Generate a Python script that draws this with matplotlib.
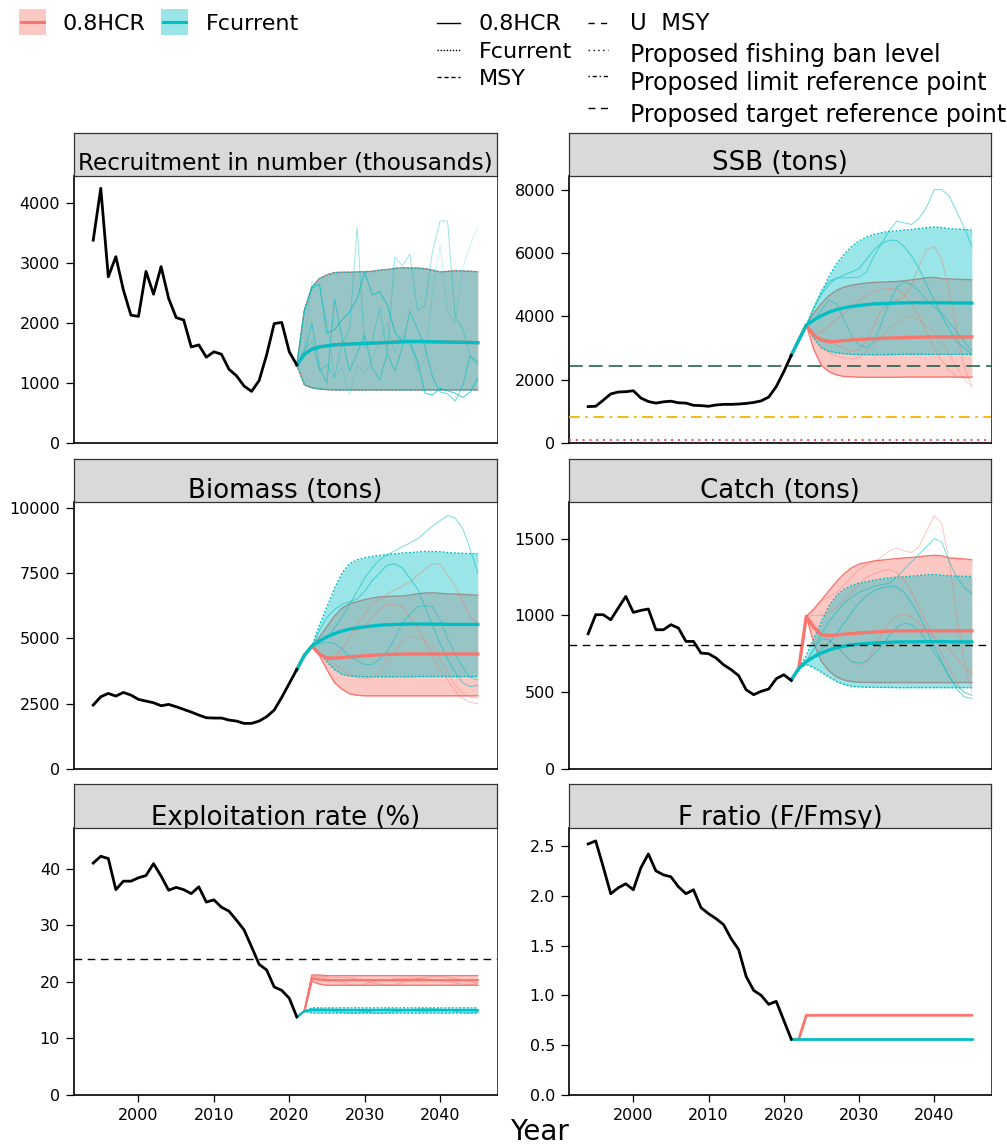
import matplotlib
matplotlib.use("Agg")
import matplotlib.pyplot as plt
from matplotlib.lines import Line2D
from matplotlib.patches import Rectangle

plt.rcParams['font.family'] = ['DejaVu Sans']

# ---------------- data ----------------
scenarios = ['0.8HCR', 'Fcurrent']
lt_col1 = ['0.8HCR', 'Fcurrent', 'MSY']
lt_col2 = ['U  MSY', 'Proposed fishing ban level', 'Proposed limit reference point',
           'Proposed target reference point']
titles = ['Recruitment in number (thousands)', 'SSB (tons)', 'Biomass (tons)',
          'Catch (tons)', 'Exploitation rate (%)', 'F ratio (F/Fmsy)']
x_label = 'Year'
x_ticks = [2000, 2010, 2020, 2030, 2040]

hist_years = list(range(1994, 2022))
proj_years = list(range(2021, 2046))

rec_hist = [3380, 4245, 2770, 3105, 2550, 2130, 2110, 2860, 2480, 2940, 2410, 2090, 2050, 1600,
            1635, 1430, 1520, 1480, 1230, 1120, 950, 860, 1040, 1470, 1990, 2010, 1520, 1300]
ssb_hist = [1150, 1160, 1350, 1550, 1610, 1620, 1650, 1420, 1310, 1260, 1300, 1320, 1270, 1260,
            1190, 1180, 1160, 1200, 1220, 1220, 1230, 1250, 1280, 1330, 1450, 1780, 2250, 2770]
bio_hist = [2445, 2764, 2891, 2789, 2929, 2828, 2662, 2598, 2535, 2420, 2471, 2382, 2280, 2178,
            2063, 1961, 1949, 1949, 1872, 1834, 1745, 1745, 1834, 2000, 2254, 2739, 3273, 3808]
catch_hist = [881, 1005, 1005, 972, 1049, 1124, 1020, 1033, 1042, 907, 907, 940, 918, 831,
              831, 755, 751, 723, 679, 647, 608, 516, 484, 506, 521, 588, 614, 577]
er_hist = [41.0, 42.2, 41.8, 36.3, 37.8, 37.8, 38.4, 38.8, 40.9, 38.7, 36.2, 36.7, 36.3, 35.6,
           36.8, 34.1, 34.5, 33.2, 32.5, 30.9, 29.2, 26.2, 23.1, 22.1, 19.1, 18.5, 17.1, 13.8]
fr_hist = [2.52, 2.55, 2.29, 2.02, 2.08, 2.12, 2.06, 2.28, 2.42, 2.25, 2.21, 2.19, 2.09, 2.02,
           2.06, 1.88, 1.82, 1.77, 1.71, 1.57, 1.46, 1.19, 1.05, 1.00, 0.91, 0.94, 0.75, 0.56]

# Recruitment projections (same for both scenarios)
rec_med = [1300, 1480, 1565, 1600, 1620, 1635, 1645, 1650, 1655, 1660, 1665, 1670, 1675,
           1680, 1688, 1690, 1692, 1690, 1688, 1685, 1682, 1680, 1678, 1675, 1672]
rec_lo = [1300, 970, 920, 900, 890, 885, 885, 885, 885, 885, 885, 885, 885,
          885, 885, 885, 885, 885, 885, 885, 885, 885, 885, 885, 885]
rec_hi = [1300, 2210, 2600, 2740, 2800, 2840, 2845, 2845, 2850, 2855, 2860, 2880, 2890,
          2910, 2920, 2915, 2915, 2905, 2880, 2850, 2860, 2870, 2865, 2860, 2855]
rec_iter_teal = [
    [1300, 2200, 2580, 2650, 1830, 1890, 2050, 2190, 2400, 2850, 2470, 2520, 2300,
     1850, 1690, 1690, 1360, 830, 800, 910, 870, 830, 760, 850, 1080],
    [1300, 1550, 1700, 1200, 1300, 1100, 1650, 1900, 3600, 1600, 1700, 2250, 1500,
     3100, 2950, 3150, 2200, 2300, 3200, 3700, 3700, 2100, 1900, 1450, 1300],
    [1300, 1500, 2000, 1250, 1000, 2400, 1750, 1200, 1500, 1800, 1250, 1050, 1500,
     1200, 1600, 2200, 1900, 1600, 1100, 850, 820, 700, 950, 1450, 1350],
    [1300, 1600, 2700, 2600, 2000, 1100, 1250, 800, 1300, 1150, 1400, 1700, 2000,
     1500, 1800, 1700, 1200, 1400, 2500, 3300, 2200, 2000, 2900, 3300, 3600],
]

# SSB
ssb_teal_med = [2770, 3250, 3720, 3880, 4020, 4130, 4210, 4270, 4310, 4340, 4370, 4390, 4400,
                4410, 4420, 4425, 4430, 4430, 4430, 4430, 4428, 4425, 4422, 4420, 4420]
ssb_teal_lo = [2770, 3250, 3720, 3300, 3000, 2900, 2850, 2820, 2800, 2790, 2790, 2790, 2790,
               2790, 2795, 2800, 2800, 2800, 2800, 2800, 2800, 2800, 2800, 2800, 2800]
ssb_teal_hi = [2770, 3250, 3720, 4250, 4750, 5250, 5650, 5950, 6200, 6380, 6500, 6580, 6640,
               6680, 6700, 6720, 6740, 6770, 6800, 6820, 6800, 6770, 6750, 6740, 6720]
ssb_pink_med = [2770, 3250, 3720, 3400, 3250, 3200, 3210, 3230, 3250, 3270, 3285, 3295, 3305,
                3315, 3320, 3330, 3335, 3340, 3345, 3350, 3350, 3350, 3350, 3350, 3350]
ssb_pink_lo = [2770, 3250, 3720, 2950, 2450, 2250, 2150, 2100, 2090, 2080, 2075, 2075, 2075,
               2075, 2080, 2080, 2085, 2085, 2085, 2085, 2085, 2085, 2080, 2080, 2080]
ssb_pink_hi = [2770, 3250, 3720, 4100, 4400, 4650, 4820, 4920, 4980, 5020, 5050, 5070, 5080,
               5090, 5100, 5120, 5150, 5180, 5220, 5230, 5190, 5180, 5170, 5160, 5150]
ssb_iter_teal = [
    [2770, 3250, 3720, 4300, 4800, 5100, 5200, 5220, 5220, 5230, 5400, 5900, 6300,
     6700, 7000, 6950, 6900, 7100, 7450, 8000, 8000, 7800, 7300, 6800, 6200],
    [2770, 3250, 3720, 4250, 4700, 5000, 5200, 5300, 5400, 5500, 5800, 6100, 6300,
     6400, 6400, 6200, 5900, 5500, 5000, 4500, 4000, 3600, 3200, 3000, 2800],
    [2770, 3250, 3720, 3900, 4200, 4500, 4400, 3900, 3400, 3100, 3000, 3200, 3800,
     4400, 4900, 5100, 5000, 4800, 4500, 4300, 4100, 3800, 3500, 3200, 2900],
]
ssb_iter_pink = [
    [2770, 3250, 3720, 3400, 3300, 3250, 3100, 3000, 2900, 2950, 3200, 3700, 4200,
     4400, 4500, 4600, 5000, 5600, 6100, 6200, 5800, 4800, 3500, 2400, 1800],
    [2770, 3250, 3720, 3450, 3500, 3700, 3900, 4100, 4300, 4500, 4650, 4780, 4850,
     4880, 4850, 4700, 4400, 4000, 3500, 3000, 2600, 2300, 2100, 2050, 2050],
    [2770, 3250, 3720, 3300, 3000, 2850, 2750, 2700, 2650, 2700, 2900, 3100, 3350,
     3600, 3800, 3950, 4000, 3900, 3700, 3500, 3200, 2800, 2400, 2000, 1780],
]
ssb_target = 2430
ssb_limit = 830
ssb_ban = 100

# Biomass
bio_teal_med = [3800, 4350, 4700, 4900, 5060, 5180, 5280, 5350, 5400, 5440, 5470, 5500, 5520,
                5530, 5540, 5545, 5545, 5545, 5540, 5540, 5535, 5530, 5530, 5530, 5530]
bio_teal_lo = [3800, 4350, 4700, 4450, 4100, 3800, 3620, 3560, 3540, 3530, 3530, 3530, 3530,
               3530, 3530, 3530, 3540, 3540, 3540, 3540, 3540, 3540, 3540, 3540, 3540]
bio_teal_hi = [3800, 4350, 4700, 5500, 6200, 6900, 7500, 7850, 8000, 8080, 8130, 8170, 8200,
               8230, 8260, 8280, 8300, 8320, 8320, 8310, 8280, 8260, 8250, 8240, 8240]
bio_pink_med = [3800, 4350, 4700, 4400, 4240, 4240, 4260, 4290, 4310, 4330, 4350, 4370, 4380,
                4390, 4395, 4400, 4400, 4400, 4400, 4400, 4400, 4400, 4400, 4400, 4400]
bio_pink_lo = [3800, 4350, 4700, 4350, 3800, 3300, 3050, 2880, 2820, 2800, 2800, 2800, 2800,
               2800, 2800, 2800, 2800, 2800, 2800, 2800, 2800, 2800, 2800, 2800, 2800]
bio_pink_hi = [3800, 4350, 4700, 5050, 5450, 5850, 6150, 6320, 6400, 6480, 6540, 6580, 6600,
               6610, 6620, 6650, 6700, 6730, 6740, 6720, 6700, 6690, 6680, 6660, 6650]
bio_iter_teal = [
    [3800, 4350, 4700, 4850, 5000, 5400, 5800, 6300, 6800, 7300, 7700, 8000, 8200,
     8350, 8500, 8650, 8800, 9050, 9300, 9500, 9700, 9600, 9200, 8400, 7500],
    [3800, 4350, 4700, 5300, 5800, 6100, 6300, 6400, 6500, 6800, 7200, 7500, 7800,
     7850, 7700, 7300, 6900, 6200, 5500, 4800, 4200, 3700, 3300, 3150, 3200],
    [3800, 4350, 4700, 4800, 4850, 4800, 4600, 4300, 4150, 4000, 4000, 4200, 4500,
     5000, 5600, 5900, 6200, 6250, 6200, 5700, 5000, 4400, 3900, 3500, 3400],
]
bio_iter_pink = [
    [3800, 4350, 4700, 4400, 4300, 4300, 4600, 5000, 5500, 5900, 6300, 6500, 6700,
     6850, 7000, 7150, 7400, 7650, 7850, 7850, 7400, 7000, 6400, 5800, 5600],
    [3800, 4350, 4700, 4900, 5000, 5150, 5300, 5300, 5300, 5500, 5800, 6100, 6300,
     6300, 6200, 5800, 5400, 4900, 4300, 3800, 3400, 3000, 2700, 2550, 2500],
    [3800, 4350, 4700, 4400, 4200, 4000, 3800, 3650, 3500, 3450, 3500, 3700, 4100,
     4500, 4900, 5050, 5050, 4900, 4700, 4200, 3700, 3200, 2900, 2750, 2700],
]

# Catch
c_teal_med = [580, 655, 700, 730, 755, 775, 790, 800, 808, 813, 817, 820, 823,
              825, 827, 828, 828, 829, 829, 829, 829, 829, 828, 828, 828]
c_teal_lo = [580, 655, 680, 660, 630, 600, 570, 550, 540, 535, 533, 532, 531,
             531, 530, 530, 530, 530, 530, 530, 530, 530, 530, 530, 530]
c_teal_hi = [580, 655, 740, 850, 960, 1060, 1130, 1170, 1195, 1210, 1220, 1230, 1238,
             1244, 1248, 1252, 1256, 1260, 1265, 1267, 1262, 1258, 1256, 1255, 1254]
c_pink_med = [580, 655, 994, 920, 875, 870, 872, 878, 882, 886, 889, 892, 895,
              898, 900, 900, 900, 900, 900, 900, 900, 900, 900, 900, 900]
c_pink_lo = [580, 655, 994, 820, 700, 640, 600, 580, 570, 565, 564, 563, 563,
             563, 563, 563, 563, 563, 563, 563, 563, 563, 563, 563, 563]
c_pink_hi = [580, 655, 994, 1040, 1100, 1160, 1220, 1270, 1310, 1335, 1345, 1355, 1360,
             1365, 1370, 1375, 1378, 1382, 1388, 1392, 1388, 1375, 1372, 1368, 1363]
c_iter_teal = [
    [580, 655, 700, 780, 880, 960, 1020, 1080, 1120, 1150, 1170, 1190, 1200,
     1210, 1250, 1300, 1350, 1400, 1450, 1500, 1480, 1350, 1250, 1180, 1140],
    [580, 655, 700, 740, 780, 820, 880, 950, 1020, 1080, 1130, 1160, 1180,
     1190, 1185, 1150, 1080, 1000, 900, 800, 700, 600, 520, 470, 460],
    [580, 655, 700, 780, 850, 840, 800, 750, 700, 690, 700, 750, 800,
     870, 920, 950, 940, 900, 830, 760, 690, 600, 540, 500, 480],
]
c_iter_pink = [
    [580, 655, 994, 1050, 1100, 1120, 1150, 1200, 1250, 1300, 1330, 1350, 1380,
     1420, 1440, 1420, 1410, 1450, 1550, 1650, 1600, 1350, 1000, 700, 500],
    [580, 655, 994, 1000, 1000, 1020, 1050, 1100, 1150, 1200, 1250, 1270, 1290,
     1300, 1280, 1230, 1150, 1050, 950, 850, 750, 650, 560, 500, 480],
    [580, 655, 994, 950, 880, 840, 800, 750, 700, 680, 700, 780, 880,
     950, 1000, 1010, 990, 950, 900, 860, 820, 780, 720, 660, 620],
]
catch_msy = 810

# Exploitation rate
er_teal_med = [13.8, 14.8, 15.0, 15.0, 15.0, 15.0, 15.0, 15.0, 15.0, 15.0, 15.0, 15.0, 15.0,
               15.0, 15.0, 15.0, 15.0, 15.0, 15.0, 15.0, 15.0, 15.0, 15.0, 15.0, 15.0]
er_teal_lo = [13.8, 14.8, 14.5, 14.5, 14.5, 14.5, 14.5, 14.5, 14.5, 14.5, 14.5, 14.5, 14.5,
              14.5, 14.5, 14.5, 14.5, 14.5, 14.5, 14.5, 14.5, 14.5, 14.5, 14.5, 14.5]
er_teal_hi = [13.8, 14.8, 15.4, 15.4, 15.4, 15.4, 15.4, 15.4, 15.4, 15.4, 15.4, 15.4, 15.4,
              15.4, 15.4, 15.4, 15.4, 15.4, 15.4, 15.4, 15.4, 15.4, 15.4, 15.4, 15.4]
er_pink_med = [13.8, 14.8, 20.6, 20.4, 20.3, 20.3, 20.3, 20.3, 20.3, 20.3, 20.3, 20.3, 20.3,
               20.3, 20.3, 20.3, 20.3, 20.3, 20.3, 20.3, 20.3, 20.3, 20.3, 20.3, 20.3]
er_pink_lo = [13.8, 14.8, 20.1, 19.6, 19.4, 19.4, 19.4, 19.4, 19.4, 19.4, 19.4, 19.4, 19.4,
              19.4, 19.4, 19.4, 19.4, 19.4, 19.4, 19.4, 19.4, 19.4, 19.4, 19.4, 19.4]
er_pink_hi = [13.8, 14.8, 21.2, 21.2, 21.1, 21.1, 21.1, 21.1, 21.1, 21.1, 21.1, 21.1, 21.1,
              21.1, 21.1, 21.1, 21.1, 21.1, 21.1, 21.1, 21.1, 21.1, 21.1, 21.1, 21.1]
er_iter_teal = [
    [13.8, 14.8, 15.2, 15.1, 15.0, 14.8, 14.6, 14.5, 14.4, 14.6, 14.9, 15.1, 15.2,
     15.2, 15.1, 15.0, 14.9, 14.8, 14.9, 15.0, 15.1, 15.1, 15.0, 14.9, 14.8],
    [13.8, 14.8, 15.3, 15.3, 15.2, 15.2, 15.1, 15.0, 14.9, 14.7, 14.5, 14.4, 14.5,
     14.7, 14.9, 15.1, 15.2, 15.3, 15.3, 15.2, 15.0, 14.8, 14.6, 14.5, 14.6],
]
er_iter_pink = [
    [13.8, 14.8, 21.0, 20.8, 20.5, 20.2, 20.0, 19.5, 19.3, 19.6, 20.0, 20.2, 20.4,
     20.5, 20.6, 20.7, 20.6, 20.5, 20.4, 20.2, 20.0, 19.8, 19.6, 19.5, 19.7],
    [13.8, 14.8, 21.1, 21.0, 20.9, 20.8, 20.8, 20.7, 20.5, 20.2, 19.8, 19.6, 19.4,
     19.5, 19.9, 20.3, 20.6, 20.8, 20.9, 20.9, 20.8, 20.6, 20.3, 20.0, 19.8],
]
er_umsy = 24.1

# F ratio
fr_teal = [0.56, 0.56, 0.56, 0.56, 0.56, 0.56, 0.56, 0.56, 0.56, 0.56, 0.56, 0.56, 0.56,
           0.56, 0.56, 0.56, 0.56, 0.56, 0.56, 0.56, 0.56, 0.56, 0.56, 0.56, 0.56]
fr_pink = [0.56, 0.56, 0.80, 0.80, 0.80, 0.80, 0.80, 0.80, 0.80, 0.80, 0.80, 0.80, 0.80,
           0.80, 0.80, 0.80, 0.80, 0.80, 0.80, 0.80, 0.80, 0.80, 0.80, 0.80, 0.80]

# ---------------- style / layout ----------------
PINK = '#F8766D'
TEAL = '#00BFC4'
W, H = 1007, 1144
fig = plt.figure(figsize=(W / 100, H / 100), dpi=100)
XLIM = (1991.45, 2047.55)
TEAL_DOT = (0, (1.5, 1.2))
TICK_FS = 11.5


def make_panel(L, R, top, bottom, strip_top, title, tsize, base_off, yticks, ylim, fmt, xlab):
    ax = fig.add_axes([L / W, 1 - bottom / H, (R - L) / W, (bottom - top) / H])
    st = fig.add_axes([L / W, 1 - top / H, (R - L) / W, (top - strip_top) / H])
    st.set_facecolor('#D9D9D9')
    st.set_xticks([]); st.set_yticks([])
    for s in st.spines.values():
        s.set_color('#333333'); s.set_linewidth(0.9)
    st.text(0.5, base_off / (top - strip_top), title, transform=st.transAxes,
            ha='center', va='baseline', fontsize=tsize, color='black', clip_on=True)
    ax.set_xlim(*XLIM)
    ax.set_ylim(*ylim)
    ax.set_yticks(yticks)
    ax.set_yticklabels([fmt.format(v) for v in yticks], fontsize=TICK_FS)
    for side in ['top', 'right']:
        ax.spines[side].set_color('#444444'); ax.spines[side].set_linewidth(0.7)
    for side in ['left', 'bottom']:
        ax.spines[side].set_color('black'); ax.spines[side].set_linewidth(1.2)
    ax.tick_params(axis='y', length=5.5, width=0.9, pad=4.5, labelsize=TICK_FS, colors='black')
    if xlab:
        ax.set_xticks(x_ticks)
        ax.set_xticklabels([str(v) for v in x_ticks], fontsize=TICK_FS)
        ax.tick_params(axis='x', length=5, width=0.9, pad=4.5, labelsize=TICK_FS, colors='black')
    else:
        ax.set_xticks([])
    return ax


def draw_band(ax, lo, hi, color, ls, z):
    ax.fill_between(proj_years, lo, hi, color=color, alpha=0.4, lw=0, zorder=z)
    ax.plot(proj_years, lo, color=color, lw=1.0, ls=ls, zorder=z + 0.1)
    ax.plot(proj_years, hi, color=color, lw=1.0, ls=ls, zorder=z + 0.1)


def draw_iters(ax, iters, color, alphas, z):
    for it, a in zip(iters, alphas):
        ax.plot(proj_years, it, color=color, lw=0.7, alpha=a, zorder=z)


# Recruitment
ax = make_panel(74, 497, 176, 443, 133, titles[0], 16.7, 6, [0, 1000, 2000, 3000, 4000],
                (0, 4450), '{:d}', False)
draw_band(ax, rec_lo, rec_hi, PINK, '-', 1)
draw_band(ax, rec_lo, rec_hi, TEAL, TEAL_DOT, 2)
draw_iters(ax, rec_iter_teal, TEAL, [0.75, 0.4, 0.6, 0.2], 3)
ax.plot(proj_years, rec_med, color=PINK, lw=2.4, zorder=4)
ax.plot(proj_years, rec_med, color=TEAL, lw=2.4, zorder=4.1)
ax.plot(hist_years, rec_hist, color='black', lw=2.0, zorder=5)

# SSB
ax = make_panel(569, 991, 176, 443, 133, titles[1], 18.7, 6, [0, 2000, 4000, 6000, 8000],
                (0, 8430), '{:d}', False)
draw_band(ax, ssb_pink_lo, ssb_pink_hi, PINK, '-', 1)
draw_band(ax, ssb_teal_lo, ssb_teal_hi, TEAL, TEAL_DOT, 2)
draw_iters(ax, ssb_iter_pink, PINK, [0.45, 0.45, 0.35], 3)
draw_iters(ax, ssb_iter_teal, TEAL, [0.55, 0.6, 0.5], 3.1)
ax.plot(proj_years, ssb_pink_med, color=PINK, lw=2.4, zorder=4)
ax.plot(proj_years, ssb_teal_med, color=TEAL, lw=2.4, zorder=4.1)
ax.plot(hist_years, ssb_hist, color='black', lw=2.0, zorder=5)
ax.axhline(ssb_target, color='#11573E', lw=1.1, ls=(0, (9, 4)), zorder=6)
ax.axhline(ssb_limit, color='#F5B400', lw=1.3, ls=(0, (6, 3, 1.5, 3)), zorder=6)
ax.axhline(ssb_ban, color='#E0564E', lw=1.4, ls=(0, (1, 2.5)), zorder=6)

# Biomass
ax = make_panel(74, 497, 502, 769, 459, titles[2], 18.7, 3.7, [0, 2500, 5000, 7500, 10000],
                (0, 10214), '{:d}', False)
draw_band(ax, bio_pink_lo, bio_pink_hi, PINK, '-', 1)
draw_band(ax, bio_teal_lo, bio_teal_hi, TEAL, TEAL_DOT, 2)
draw_iters(ax, bio_iter_pink, PINK, [0.45, 0.45, 0.35], 3)
draw_iters(ax, bio_iter_teal, TEAL, [0.55, 0.6, 0.5], 3.1)
ax.plot(proj_years, bio_pink_med, color=PINK, lw=2.4, zorder=4)
ax.plot(proj_years, bio_teal_med, color=TEAL, lw=2.4, zorder=4.1)
ax.plot(hist_years, bio_hist, color='black', lw=2.0, zorder=5)

# Catch
ax = make_panel(569, 991, 502, 769, 459, titles[3], 18.7, 3.7, [0, 500, 1000, 1500],
                (0, 1739), '{:d}', False)
draw_band(ax, c_pink_lo, c_pink_hi, PINK, '-', 1)
draw_band(ax, c_teal_lo, c_teal_hi, TEAL, TEAL_DOT, 2)
draw_iters(ax, c_iter_pink, PINK, [0.4, 0.45, 0.45], 3)
draw_iters(ax, c_iter_teal, TEAL, [0.55, 0.6, 0.5], 3.1)
ax.plot(proj_years, c_pink_med, color=PINK, lw=2.4, zorder=4)
ax.plot(proj_years, c_teal_med, color=TEAL, lw=2.4, zorder=4.1)
ax.plot(hist_years, catch_hist, color='black', lw=2.0, zorder=5)
ax.axhline(catch_msy, color='black', lw=1.0, ls=(0, (5.5, 4)), zorder=6)

# Exploitation rate
ax = make_panel(74, 497, 828, 1095, 784, titles[4], 18.7, 3, [0, 10, 20, 30, 40],
                (0, 47.2), '{:d}', True)
draw_band(ax, er_pink_lo, er_pink_hi, PINK, '-', 1)
draw_band(ax, er_teal_lo, er_teal_hi, TEAL, TEAL_DOT, 2)
draw_iters(ax, er_iter_pink, PINK, [0.5, 0.5], 3)
draw_iters(ax, er_iter_teal, TEAL, [0.5, 0.5], 3.1)
ax.plot(proj_years, er_pink_med, color=PINK, lw=1.6, zorder=4)
ax.plot(proj_years, er_teal_med, color=TEAL, lw=1.6, zorder=4.1)
ax.plot(hist_years, er_hist, color='black', lw=2.0, zorder=5)
ax.axhline(er_umsy, color='black', lw=1.0, ls=(0, (5.5, 4)), zorder=6)

# F ratio
ax = make_panel(569, 991, 828, 1095, 784, titles[5], 18.7, 3,
                [0.0, 0.5, 1.0, 1.5, 2.0, 2.5], (0, 2.68), '{:.1f}', True)
ax.plot(proj_years, fr_pink, color=PINK, lw=2.0, zorder=4)
ax.plot(proj_years, fr_teal, color=TEAL, lw=2.0, zorder=4.1)
ax.plot(hist_years, fr_hist, color='black', lw=2.0, zorder=5)


# ---------------- legends ----------------
def fig_line(x0, x1, y, **kw):
    fig.add_artist(Line2D([x0 / W, x1 / W], [1 - y / H, 1 - y / H],
                          transform=fig.transFigure, **kw))


def fig_text(x, y, s, **kw):
    return fig.text(x / W, 1 - y / H, s, **kw)


for (x0, x1, col, lab, tx) in [(19, 46, PINK, scenarios[0], 62),
                               (161, 188, TEAL, scenarios[1], 206)]:
    fig.add_artist(Rectangle((x0 / W, 1 - 35 / H), (x1 - x0) / W, 26 / H,
                             transform=fig.transFigure, facecolor=col, alpha=0.4, lw=0))
    fig_line(x0 + 2, x1 - 2, 22, color=col, lw=2.2)
    fig_text(tx, 30.5, lab, fontsize=16, va='baseline')

col1_styles = ['-', (0, (1, 1.2)), (0, (3, 2))]
col1_rows = [(23, 30.5), (50, 58), (77, 85)]
for lab, ls, (yk, yb) in zip(lt_col1, col1_styles, col1_rows):
    fig_line(437, 460, yk, color='black', lw=1.0, ls=ls)
    fig_text(479, yb, lab, fontsize=16, va='baseline')

col2_styles = [(0, (4.5, 4.5)), (0, (1, 2.5)), (0, (1, 2, 3, 2)), (0, (5, 4))]
col2_rows = [(23, 30.5), (50, 62), (76, 90), (108, 122)]
col2_sizes = [16.5, 17, 17, 17]
for lab, ls, (yk, yb), fs in zip(lt_col2, col2_styles, col2_rows, col2_sizes):
    fig_line(588, 608, yk, color='black', lw=1.0, ls=ls)
    fig_text(630, yb, lab, fontsize=fs, va='baseline')

fig_text(539, 1140, x_label, fontsize=20, ha='center', va='baseline')

fig.savefig('out.png', dpi=100, facecolor='white')
